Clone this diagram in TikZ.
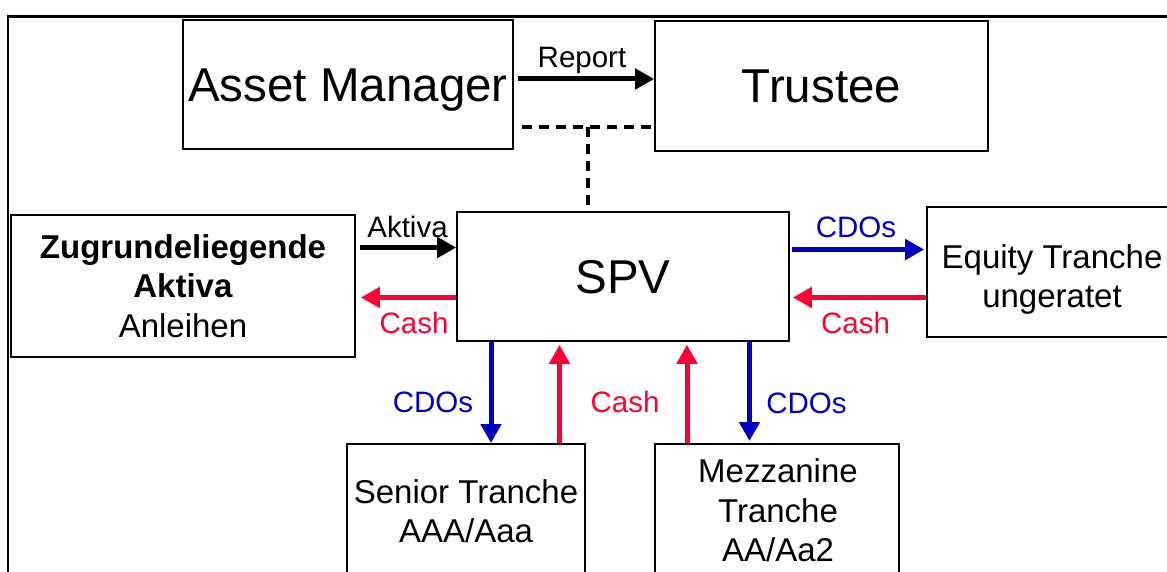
\documentclass[tikz,border=0pt]{standalone}
\usepackage{fontspec}
\setmainfont{Liberation Sans}
\usetikzlibrary{arrows.meta}
\definecolor{cdoblue}{RGB}{0,0,192}
\definecolor{cashred}{RGB}{255,0,51}
\begin{document}
\begin{tikzpicture}[x=1pt,y=-1pt,
  box/.style={draw,line width=1.6pt,inner sep=0pt,align=center},
  big/.style={font=\fontsize{47.5}{57}\selectfont,text height=34pt,text depth=0pt},
  mid/.style={font=\fontsize{33}{39.5}\selectfont},
  lab/.style={font=\fontsize{29.5}{34}\selectfont,anchor=base,inner sep=0pt},
  arr/.style={line width=5pt,-{Triangle[length=19pt,width=20pt]}},
  dashline/.style={line width=4.2pt,dash pattern=on 10pt off 7pt}
]
\useasboundingbox (0,0) rectangle (1167,572);
\clip (0,0) rectangle (1167,572);
\draw[line width=2.7pt] (8,16.2) rectangle (1230,640);

% boxes
\node[box,big,minimum width=330pt,minimum height=129pt] (am) at (348,84.5) {Asset Manager};
\node[box,big,minimum width=333pt,minimum height=130pt] (tr) at (821.5,86) {Trustee};
\node[box,big,minimum width=332pt,minimum height=129pt] (spv) at (623,276.5) {SPV};
\node[box,mid,minimum width=344pt,minimum height=142pt] (ua) at (183,286)
  {\textbf{Zugrundeliegende}\\\textbf{Aktiva}\\Anleihen};
\node[box,minimum width=250pt,minimum height=130pt] (eq) at (1052,272) {};
\node[mid,align=center,inner sep=0pt] (eqt) at (1052,279.5) {Equity Tranche\\ungeratet};
\node[box,minimum width=238pt,minimum height=170pt,anchor=north] (sen) at (466,443) {};
\node[mid,align=center,inner sep=0pt] (sent) at (466,511) {Senior Tranche\\AAA/Aaa};
\node[box,minimum width=244pt,minimum height=170pt,anchor=north] (mez) at (777,443) {};
\node[mid,align=center,inner sep=0pt] (mezt) at (778,510.5) {Mezzanine\\Tranche\\AA/Aa2};

% Report
\draw[arr,shorten <=4pt] (am.east |- 0,79) -- (tr.west |- 0,79);
\node[lab] (lrep) at (582,68) {Report};

% dashed link
\coordinate (dj) at (588,127);
\draw[dashline,shorten <=8pt] (am.east |- dj) -- (tr.west |- dj);
\draw[dashline] (dj) -- (spv.north -| dj);

% left side
\draw[arr,shorten <=4pt] (ua.east |- 0,247.5) -- (spv.west |- 0,247.5);
\node[lab] (lakt) at (407.5,237) {Aktiva};
\draw[arr,cashred,shorten >=5pt] (spv.west |- 0,297.5) -- (ua.east |- 0,297.5);
\node[lab,text=cashred] (lc1) at (414,333) {Cash};

% right side
\draw[arr,cdoblue,shorten <=2pt,shorten >=2pt] (spv.east |- 0,249.5) -- (eq.west |- 0,249.5);
\node[lab,text=cdoblue] (ld1) at (856,237) {CDOs};
\draw[arr,cashred,shorten >=3pt] (eq.west |- 0,297.5) -- (spv.east |- 0,297.5);
\node[lab,text=cashred] (lc2) at (855.5,333) {Cash};

% bottom
\draw[arr,cdoblue] (spv.south -| 491,0) -- (sen.north -| 491,0);
\node[lab,text=cdoblue] (ld2) at (433,412) {CDOs};
\draw[arr,cashred,shorten >=3pt] (sen.north -| 559.5,0) -- (spv.south -| 559.5,0);
\draw[arr,cashred,shorten >=3pt] (mez.north -| 687,0) -- (spv.south -| 687,0);
\node[lab,text=cashred] (lc3) at (625,412) {Cash};
\draw[arr,cdoblue,shorten >=2pt] (spv.south -| 749.5,0) -- (mez.north -| 749.5,0);
\node[lab,text=cdoblue] (ld3) at (806.5,413) {CDOs};
\end{tikzpicture}
\end{document}
